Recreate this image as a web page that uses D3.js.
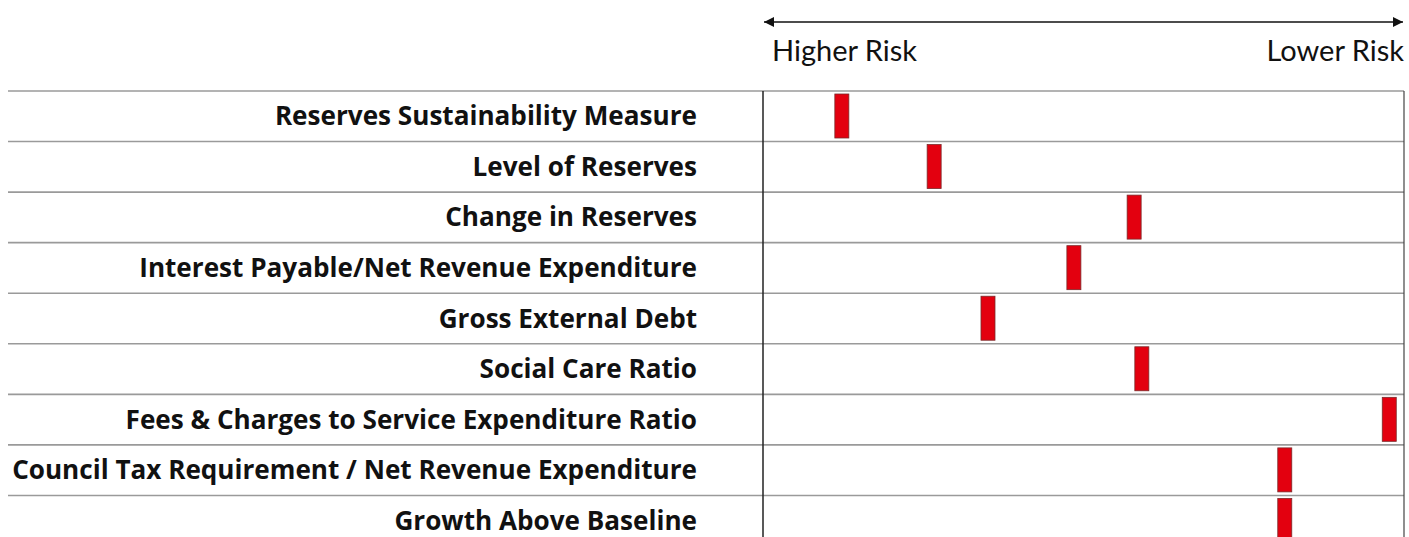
<!DOCTYPE html>
<html>
<head>
<meta charset="utf-8">
<script src="https://cdn.jsdelivr.net/npm/d3@7"></script>
<style>
  body { margin: 0; background: #fff; }
  svg { display: block; }
</style>
</head>
<body>
<div id="chart"></div>
<script>
// risk indicators, top to bottom
var measures = [
  "Reserves Sustainability Measure",
  "Level of Reserves",
  "Change in Reserves",
  "Interest Payable/Net Revenue Expenditure",
  "Gross External Debt",
  "Social Care Ratio",
  "Fees & Charges to Service Expenditure Ratio",
  "Council Tax Requirement / Net Revenue Expenditure",
  "Growth Above Baseline"
];
// position on the higher risk (0) -> lower risk (100) scale
var scores = [12.3, 26.7, 57.9, 48.5, 35.1, 59.1, 97.7, 81.4, 81.4];
var scaleLabels = ["Higher Risk", "Lower Risk"];

var width = 1409, height = 537;
var labelRight = 697, labelLeft = 12;

var svg = d3.select("#chart").append("svg")
    .attr("width", width)
    .attr("height", height);

var defs = svg.append("defs");
["start", "end"].forEach(function(k) {
  defs.append("marker")
      .attr("id", "arrow-" + k)
      .attr("viewBox", "0 0 10 10")
      .attr("refX", 10).attr("refY", 5)
      .attr("markerWidth", 10).attr("markerHeight", 10)
      .attr("markerUnits", "userSpaceOnUse")
      .attr("orient", k == "start" ? "auto-start-reverse" : "auto")
    .append("path")
      .attr("d", "M0,0 L10,5 L0,10 Z")
      .attr("fill", "#111");
});

var x = d3.scaleLinear()
    .domain([0, 100])
    .range([763, 1404]);

var y = d3.scaleBand()
    .domain(measures)
    .range([91, 546]);

// arrow across the top
svg.append("line")
    .attr("x1", x(0) + 1).attr("x2", x(100) - 1)
    .attr("y1", 22).attr("y2", 22)
    .attr("stroke", "#111")
    .attr("stroke-width", 1.5)
    .attr("marker-start", "url(#arrow-start)")
    .attr("marker-end", "url(#arrow-end)");

svg.selectAll(".risk-label")
    .data(scaleLabels)
    .enter().append("text")
    .attr("class", "risk-label")
    .attr("x", (d, i) => i == 0 ? x(0) + 9 : x(100))
    .attr("y", 61)
    .attr("text-anchor", (d, i) => i == 0 ? "start" : "end")
    .style("font-family", "Lato, 'Open Sans', sans-serif")
    .style("font-size", "29px")
    .style("fill", "#111")
    .text(d => d);

// row separators
svg.selectAll(".row-line")
    .data(measures)
    .enter().append("line")
    .attr("class", "row-line")
    .attr("x1", 8).attr("x2", x(100))
    .attr("y1", d => y(d)).attr("y2", d => y(d))
    .attr("stroke", "#9a9a9a")
    .attr("stroke-width", 1.6);

// vertical frame lines
svg.append("line")
    .attr("x1", x(0)).attr("x2", x(0))
    .attr("y1", y.range()[0]).attr("y2", height)
    .attr("stroke", "#222").attr("stroke-width", 1.5);
svg.append("line")
    .attr("x1", x(100)).attr("x2", x(100))
    .attr("y1", y.range()[0]).attr("y2", height)
    .attr("stroke", "#444").attr("stroke-width", 1.2);

// labels
var labels = svg.selectAll(".measure")
    .data(measures)
    .enter().append("text")
    .attr("class", "measure")
    .attr("x", labelRight)
    .attr("y", d => y(d) + y.bandwidth() / 2 + 9)
    .attr("text-anchor", "end")
    .style("font-family", "'Open Sans', sans-serif")
    .style("font-weight", "bold")
    .style("font-size", "24px")
    .style("fill", "#111")
    .text(d => d);

// fit the longest label into the left column
var longest = d3.max(labels.nodes(), n => n.getComputedTextLength());
var fs = 24 * (labelRight - labelLeft) / longest;
labels.style("font-size", fs + "px");

// markers
svg.selectAll(".mark")
    .data(measures)
    .enter().append("rect")
    .attr("class", "mark")
    .attr("x", (d, i) => x(scores[i]) - 7)
    .attr("y", d => y(d) + 3)
    .attr("width", 14)
    .attr("height", 44)
    .attr("fill", "#e3000f")
    .attr("stroke", "#7a2a2a")
    .attr("stroke-width", 0.8);
</script>
</body>
</html>
